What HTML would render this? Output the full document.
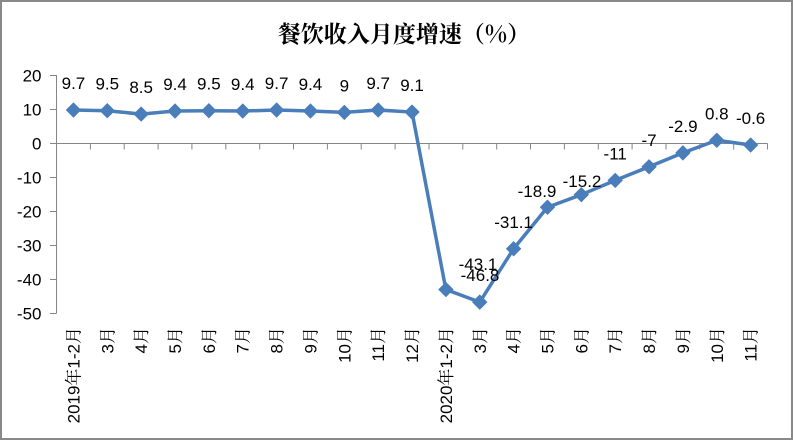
<!DOCTYPE html>
<html><head><meta charset="utf-8"><style>
html,body{margin:0;padding:0;background:#fff;}
svg{display:block;}
text{font-family:"Liberation Sans","Noto Serif CJK SC",serif;font-size:17px;fill:#000;}
</style></head><body>
<svg width="793" height="440" viewBox="0 0 793 440" xmlns="http://www.w3.org/2000/svg">
<rect x="1" y="1" width="791" height="438" fill="#fff" stroke="#898989" stroke-width="2"/>
<text x="404" y="42" text-anchor="middle" style="font-family:'Noto Serif CJK SC','Liberation Serif',serif;font-size:23px;font-weight:bold;">餐饮收入月度增速（%）</text>
<g stroke="#868686" stroke-width="1" fill="none">
<line x1="56.5" y1="75" x2="56.5" y2="313.5"/>
<line x1="50" y1="75.5" x2="56.5" y2="75.5"/>
<line x1="50" y1="109.5" x2="56.5" y2="109.5"/>
<line x1="50" y1="143.5" x2="56.5" y2="143.5"/>
<line x1="50" y1="177.5" x2="56.5" y2="177.5"/>
<line x1="50" y1="211.5" x2="56.5" y2="211.5"/>
<line x1="50" y1="245.5" x2="56.5" y2="245.5"/>
<line x1="50" y1="279.5" x2="56.5" y2="279.5"/>
<line x1="50" y1="313.5" x2="56.5" y2="313.5"/>
<line x1="56.5" y1="143.5" x2="767.5" y2="143.5"/>
<path d="M90.4 143.5v6M124.2 143.5v6M158.1 143.5v6M191.9 143.5v6M225.8 143.5v6M259.7 143.5v6M293.5 143.5v6M327.4 143.5v6M361.2 143.5v6M395.1 143.5v6M429 143.5v6M462.8 143.5v6M496.7 143.5v6M530.5 143.5v6M564.4 143.5v6M598.3 143.5v6M632.1 143.5v6M666 143.5v6M699.8 143.5v6M733.7 143.5v6M767.5 143.5v6"/>
</g>
<g text-anchor="end">
<text x="41.5" y="81.5">20</text>
<text x="41.5" y="115.5">10</text>
<text x="41.5" y="149.5">0</text>
<text x="41.5" y="183.5">-10</text>
<text x="41.5" y="217.5">-20</text>
<text x="41.5" y="251.5">-30</text>
<text x="41.5" y="285.5">-40</text>
<text x="41.5" y="319.5">-50</text>
</g>
<polyline fill="none" stroke="#4A7EBB" stroke-width="3.5" stroke-linejoin="round" points="73.43,110.02 107.29,110.7 141.15,114.1 175.01,111.04 208.87,110.7 242.73,111.04 276.59,110.02 310.45,111.04 344.31,112.4 378.17,110.02 412.03,112.06 445.89,289.54 479.75,302.12 513.61,248.74 547.47,207.26 581.33,194.68 615.19,180.4 649.05,166.8 682.91,152.86 716.77,140.28 750.63,145.04"/>
<g fill="#4A7EBB" stroke="#4A7EBB" stroke-width="1">
<path d="M73.43 103.02l7 7l-7 7l-7 -7z"/>
<path d="M107.29 103.7l7 7l-7 7l-7 -7z"/>
<path d="M141.15 107.1l7 7l-7 7l-7 -7z"/>
<path d="M175.01 104.04l7 7l-7 7l-7 -7z"/>
<path d="M208.87 103.7l7 7l-7 7l-7 -7z"/>
<path d="M242.73 104.04l7 7l-7 7l-7 -7z"/>
<path d="M276.59 103.02l7 7l-7 7l-7 -7z"/>
<path d="M310.45 104.04l7 7l-7 7l-7 -7z"/>
<path d="M344.31 105.4l7 7l-7 7l-7 -7z"/>
<path d="M378.17 103.02l7 7l-7 7l-7 -7z"/>
<path d="M412.03 105.06l7 7l-7 7l-7 -7z"/>
<path d="M445.89 282.54l7 7l-7 7l-7 -7z"/>
<path d="M479.75 295.12l7 7l-7 7l-7 -7z"/>
<path d="M513.61 241.74l7 7l-7 7l-7 -7z"/>
<path d="M547.47 200.26l7 7l-7 7l-7 -7z"/>
<path d="M581.33 187.68l7 7l-7 7l-7 -7z"/>
<path d="M615.19 173.4l7 7l-7 7l-7 -7z"/>
<path d="M649.05 159.8l7 7l-7 7l-7 -7z"/>
<path d="M682.91 145.86l7 7l-7 7l-7 -7z"/>
<path d="M716.77 133.28l7 7l-7 7l-7 -7z"/>
<path d="M750.63 138.04l7 7l-7 7l-7 -7z"/>
</g>
<g text-anchor="middle">
<text x="73.43" y="89">9.7</text>
<text x="107.29" y="89.7">9.5</text>
<text x="141.15" y="93.1">8.5</text>
<text x="175.01" y="90">9.4</text>
<text x="208.87" y="89.7">9.5</text>
<text x="242.73" y="90">9.4</text>
<text x="276.59" y="89">9.7</text>
<text x="310.45" y="90">9.4</text>
<text x="344.31" y="91.4">9</text>
<text x="378.17" y="89">9.7</text>
<text x="412.03" y="91">9.1</text>
<text x="478" y="270">-43.1</text>
<text x="480" y="281">-46.8</text>
<text x="513.61" y="228">-31.1</text>
<text x="537" y="197">-18.9</text>
<text x="582" y="187">-15.2</text>
<text x="615.19" y="159.4">-11</text>
<text x="649.05" y="145.8">-7</text>
<text x="682.91" y="131.9">-2.9</text>
<text x="716.77" y="119.3">0.8</text>
<text x="750.63" y="124">-0.6</text>
</g>
<g text-anchor="end">
<text transform="translate(79.4,327) rotate(-90)">2019年1-2月</text>
<text transform="translate(113.3,327) rotate(-90)">3月</text>
<text transform="translate(147.2,327) rotate(-90)">4月</text>
<text transform="translate(181,327) rotate(-90)">5月</text>
<text transform="translate(214.9,327) rotate(-90)">6月</text>
<text transform="translate(248.7,327) rotate(-90)">7月</text>
<text transform="translate(282.6,327) rotate(-90)">8月</text>
<text transform="translate(316.5,327) rotate(-90)">9月</text>
<text transform="translate(350.3,327) rotate(-90)">10月</text>
<text transform="translate(384.2,327) rotate(-90)">11月</text>
<text transform="translate(418,327) rotate(-90)">12月</text>
<text transform="translate(451.9,327) rotate(-90)">2020年1-2月</text>
<text transform="translate(485.8,327) rotate(-90)">3月</text>
<text transform="translate(519.6,327) rotate(-90)">4月</text>
<text transform="translate(553.5,327) rotate(-90)">5月</text>
<text transform="translate(587.3,327) rotate(-90)">6月</text>
<text transform="translate(621.2,327) rotate(-90)">7月</text>
<text transform="translate(655,327) rotate(-90)">8月</text>
<text transform="translate(688.9,327) rotate(-90)">9月</text>
<text transform="translate(722.8,327) rotate(-90)">10月</text>
<text transform="translate(756.6,327) rotate(-90)">11月</text>
</g>
</svg>
</body></html>
